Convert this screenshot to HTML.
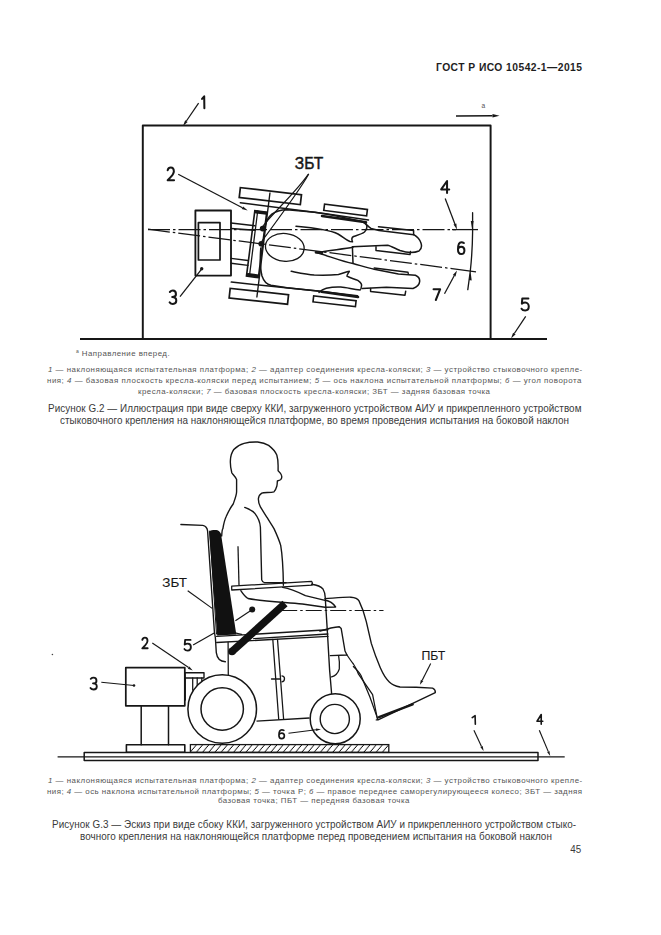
<!DOCTYPE html>
<html><head><meta charset="utf-8">
<style>
html,body{margin:0;padding:0;background:#fff;}
body{width:661px;height:935px;position:relative;overflow:hidden;font-family:"Liberation Sans",sans-serif;color:#2a2a2a;}
.t{position:absolute;white-space:nowrap;line-height:1;transform-origin:0 0;}
.hdr{font-weight:bold;font-size:10.3px;color:#1e1e1e;}
.leg{font-size:7.9px;color:#555;}
.cap{font-size:9.9px;color:#3a3a3a;transform:scaleY(1.07);transform-origin:0 8.4px;}
i{font-style:italic;}
svg{position:absolute;left:0;top:0;}
</style></head><body>
<div class="t hdr" id="h1" style="left:436px;top:63.0px;letter-spacing:0.445px">ГОСТ Р ИСО 10542-1—2015</div>

<div class="t leg" id="a1" style="left:76px;top:348.5px;letter-spacing:0.444px"><sup style="font-size:5px;vertical-align:3px">a</sup> Направление вперед.</div>
<div class="t leg" id="l1" style="left:48px;top:366.3px;letter-spacing:0.499px"><i>1</i> — наклоняющаяся испытательная платформа; <i>2</i> — адаптер соединения кресла-коляски; <i>3</i> — устройство стыковочного крепле-</div>
<div class="t leg" id="l2" style="left:47px;top:376.9px;letter-spacing:0.523px">ния; <i>4</i> — базовая плоскость кресла-коляски перед испытанием; <i>5</i> — ось наклона испытательной платформы; <i>6</i> — угол поворота</div>
<div class="t leg" id="l3" style="left:138px;top:387.8px;letter-spacing:0.477px">кресла-коляски; <i>7</i> — базовая плоскость кресла-коляски; ЗБТ — задняя базовая точка</div>
<div class="t cap" id="c1" style="left:48px;top:403.9px;letter-spacing:0.053px">Рисунок G.2 — Иллюстрация при виде сверху ККИ, загруженного устройством АИУ и прикрепленного устройством</div>
<div class="t cap" id="c2" style="left:60px;top:416.0px;letter-spacing:0.059px">стыковочного крепления на наклоняющейся платформе, во время проведения испытания на боковой наклон</div>

<div class="t leg" id="m1" style="left:48px;top:776.8px;letter-spacing:0.499px"><i>1</i> — наклоняющаяся испытательная платформа; <i>2</i> — адаптер соединения кресла-коляски; <i>3</i> — устройство стыковочного крепле-</div>
<div class="t leg" id="m2" style="left:47px;top:787.8px;letter-spacing:0.464px">ния; <i>4</i> — ось наклона испытательной платформы; <i>5</i> — точка P; <i>6</i> — правое переднее саморегулирующееся колесо; ЗБТ — задняя</div>
<div class="t leg" id="m3" style="left:218px;top:797.4px;letter-spacing:0.469px">базовая точка; ПБТ — передняя базовая точка</div>
<div class="t cap" id="d1" style="left:52px;top:819.9px;letter-spacing:0.053px">Рисунок G.3 — Эскиз при виде сбоку ККИ, загруженного устройством АИУ и прикрепленного устройством стыко-</div>
<div class="t cap" id="d2" style="left:80px;top:831.5px;letter-spacing:0.059px">вочного крепления на наклоняющейся платформе перед проведением испытания на боковой наклон</div>
<div class="t cap" id="p45" style="left:570.2px;top:844.5px;font-size:9.8px;letter-spacing:0.2px">45</div>

<svg width="661" height="935" viewBox="0 0 661 935">
<path d="M142.8,339 V125.5 H490.6 V339" fill="none" stroke="#161616" stroke-width="1.9549999999999998" stroke-linejoin="round" stroke-linecap="round" />
<line x1="80.0" y1="339.0" x2="547.0" y2="339.0" stroke="#161616" stroke-width="1.9549999999999998" />
<line x1="456.0" y1="116.0" x2="492.5" y2="115.8" stroke="#161616" stroke-width="1.38"/><path d="M499.5,115.8 L492.5,117.5 L492.5,114.1 Z" fill="#161616"/>
<text x="481.5" y="108.3" font-family="Liberation Sans" font-size="6.6" fill="#555">a</text>
<line x1="198.6" y1="103.2" x2="186.4" y2="121.0" stroke="#161616" stroke-width="1.265"/><path d="M183.0,126.0 L185.2,120.2 L187.6,121.9 Z" fill="#161616"/>
<path d="M 202.04,98.92 L 204.20,96.30 L 204.38,108.20" fill="none" stroke="#161616" stroke-width="2.0124999999999997" stroke-linecap="round" stroke-linejoin="round"/>
<line x1="525.7" y1="316.3" x2="514.3" y2="333.5" stroke="#161616" stroke-width="1.265"/><path d="M511.0,338.5 L513.1,332.7 L515.6,334.3 Z" fill="#161616"/>
<path d="M 528.39,298.44 L 522.31,298.44 L 521.86,303.69 C 522.92,302.84 524.06,302.59 525.20,302.59 C 527.48,302.59 528.77,304.54 528.77,306.50 C 528.77,308.94 527.48,310.40 525.20,310.40 C 523.68,310.40 522.16,309.79 521.55,308.69" fill="none" stroke="#161616" stroke-width="2.0124999999999997" stroke-linecap="round" stroke-linejoin="round"/>
<line x1="148.0" y1="229.6" x2="456.0" y2="229.6" stroke="#161616" stroke-width="1.265" stroke-dasharray="22 3 2.5 3"/>
<line x1="452.0" y1="229.6" x2="478.0" y2="229.6" stroke="#161616" stroke-width="1.265" />
<line x1="148.0" y1="229.2" x2="452.0" y2="268.6" stroke="#161616" stroke-width="1.265" stroke-dasharray="22 3 2.5 3"/>
<line x1="452.0" y1="268.6" x2="476.0" y2="271.8" stroke="#161616" stroke-width="1.265" />
<path d="M472.6,212.7 L472.6,232 Q472.4,252 470.3,271 L467.8,289.6" fill="none" stroke="#161616" stroke-width="1.3224999999999998" stroke-linejoin="round" stroke-linecap="round" />
<path d="M472.2,229.8 L470.8,221 L473.6,221 Z" fill="#161616"/>
<path d="M470.6,271.5 L468.9,280 L471.7,280.4 Z" fill="#161616"/>
<path d="M 447.05,193.00 L 447.05,181.00 L 441.17,189.40 L 449.23,189.40" fill="none" stroke="#161616" stroke-width="2.0124999999999997" stroke-linecap="round" stroke-linejoin="round"/>
<line x1="445.2" y1="198.5" x2="454.9" y2="224.0" stroke="#161616" stroke-width="1.265"/><path d="M457.0,229.6 L453.5,224.5 L456.3,223.5 Z" fill="#161616"/>
<path d="M 463.86,243.01 C 462.95,242.30 462.04,242.30 461.34,242.30 C 459.10,242.30 457.98,245.84 457.98,249.62 C 457.98,252.57 459.45,254.10 461.20,254.10 C 463.02,254.10 464.42,252.57 464.42,250.21 C 464.42,247.85 463.02,246.67 461.20,246.67 C 459.80,246.67 458.40,247.61 458.05,249.14" fill="none" stroke="#161616" stroke-width="2.0124999999999997" stroke-linecap="round" stroke-linejoin="round"/>
<path d="M 433.54,289.22 L 440.16,289.22 L 435.81,300.00" fill="none" stroke="#161616" stroke-width="2.0124999999999997" stroke-linecap="round" stroke-linejoin="round"/>
<line x1="444.5" y1="293.8" x2="454.2" y2="275.8" stroke="#161616" stroke-width="1.265"/><path d="M457.0,270.5 L455.5,276.5 L452.8,275.1 Z" fill="#161616"/><path d="M195.4,210.5 H231 V275.6 H195.4 Z" fill="none" stroke="#161616" stroke-width="1.8399999999999999" stroke-linejoin="round" stroke-linecap="round" />
<path d="M198.4,222.7 H220 V260 H198.4 Z" fill="none" stroke="#161616" stroke-width="1.7249999999999999" stroke-linejoin="round" stroke-linecap="round" />
<circle cx="201.7" cy="268.8" r="1.7" fill="#161616"/>
<line x1="201.6" y1="269.1" x2="180.0" y2="296.7" stroke="#161616" stroke-width="1.265" />
<path d="M 169.84,291.93 C 170.86,290.87 171.88,290.60 172.90,290.60 C 174.94,290.60 175.96,292.20 175.96,294.19 C 175.96,296.19 174.60,296.98 172.22,296.98 C 174.94,296.98 176.30,298.58 176.30,300.58 C 176.30,302.84 174.94,303.90 172.90,303.90 C 171.54,303.90 170.32,303.24 169.64,302.30" fill="none" stroke="#161616" stroke-width="2.0124999999999997" stroke-linecap="round" stroke-linejoin="round"/>
<path d="M231,223 L255,225.8 M231,228.5 L255,230.2" fill="none" stroke="#161616" stroke-width="1.38" stroke-linejoin="round" stroke-linecap="round" />
<path d="M231,258.4 L248,260.5 M231,263.3 L248,265.4" fill="none" stroke="#161616" stroke-width="1.38" stroke-linejoin="round" stroke-linecap="round" />
<rect x="250.6" y="211.2" width="12.0" height="66.0" transform="rotate(7.30 256.6 244.2)" fill="none" stroke="#161616" stroke-width="1.6099999999999999"/>
<path d="M257.7,211 L249.4,276.3" fill="none" stroke="#161616" stroke-width="1.265" stroke-linejoin="round" stroke-linecap="round" />
<path d="M256,212 L266.5,213.2 M248,274.5 L258.6,276" fill="none" stroke="#161616" stroke-width="2.9899999999999998" stroke-linejoin="round" stroke-linecap="round" />
<line x1="178.2" y1="174.2" x2="242.4" y2="207.8" stroke="#161616" stroke-width="1.265"/><path d="M247.7,210.6 L241.7,209.1 L243.1,206.5 Z" fill="#161616"/>
<path d="M 167.65,170.20 C 168.34,167.86 169.72,167.60 170.75,167.60 C 172.82,167.60 173.86,169.42 173.86,171.50 C 173.86,173.84 172.48,175.14 170.41,177.35 L 167.65,180.21 L 174.06,180.21" fill="none" stroke="#161616" stroke-width="2.0124999999999997" stroke-linecap="round" stroke-linejoin="round"/>
<rect x="239.6" y="191.1" width="61.5" height="10.0" transform="rotate(6.60 270.4 196.1)" fill="none" stroke="#161616" stroke-width="1.7249999999999999"/>
<rect x="229.5" y="291.5" width="58.7" height="9.6" transform="rotate(6.20 258.9 296.3)" fill="none" stroke="#161616" stroke-width="1.7249999999999999"/>
<line x1="270.0" y1="192.5" x2="256.8" y2="297.5" stroke="#161616" stroke-width="1.38" />
<path d="M240.3,202.8 L324,213.4 L368.5,220" fill="none" stroke="#161616" stroke-width="1.4949999999999999" stroke-linejoin="round" stroke-linecap="round" />
<path d="M322,216 L366,222.2" fill="none" stroke="#161616" stroke-width="2.53" stroke-linejoin="round" stroke-linecap="round" />
<path d="M231.3,282.1 L320,291.3 L357.5,295.8" fill="none" stroke="#161616" stroke-width="1.4949999999999999" stroke-linejoin="round" stroke-linecap="round" />
<path d="M321.5,291.8 L358,297" fill="none" stroke="#161616" stroke-width="2.6449999999999996" stroke-linejoin="round" stroke-linecap="round" />
<rect x="324.0" y="206.8" width="43.2" height="6.3" transform="rotate(7.30 345.6 209.9)" fill="none" stroke="#161616" stroke-width="1.6099999999999999"/>
<rect x="313.2" y="298.3" width="42.7" height="6.0" transform="rotate(6.50 334.6 301.3)" fill="none" stroke="#161616" stroke-width="1.6099999999999999"/>
<circle cx="262.6" cy="228.6" r="2.8" fill="#161616"/>
<circle cx="261.2" cy="243.8" r="2.8" fill="#161616"/>
<path d="M308.2,174.3 C296,192 272,214 263,226" fill="none" stroke="#161616" stroke-width="1.15" stroke-linejoin="round" stroke-linecap="round" />
<path d="M308.6,174.3 C300,190 276,222 262,241" fill="none" stroke="#161616" stroke-width="1.15" stroke-linejoin="round" stroke-linecap="round" />
<text x="294.8" y="169.2" font-family="Liberation Sans" font-size="16" fill="#161616" stroke="#161616" stroke-width="0.45" textLength="28.4" lengthAdjust="spacingAndGlyphs">ЗБТ</text>
<ellipse cx="284.8" cy="247.4" rx="19.4" ry="13.9" transform="rotate(6 284.8 247.4)" fill="none" stroke="#161616" stroke-width="1.3"/>
<path d="M265,227 C267,215 275,210 287,209.8 L315,212.3 L333,215.2 L362,221.5 C366,223.5 368,226.5 371,228.4 L379,230.5 L413.8,234.7 C421,239 424,247 419,251 C414,253 406,252.5 400,250.5 C395,248.5 391,245.8 387.5,245.2 L352.4,246.8 L353,263.2" fill="none" stroke="#161616" stroke-width="1.4949999999999999" stroke-linejoin="round" stroke-linecap="round" />
<path d="M296,226.3 C315,228 330,230 338,234 C343,237 347,240.5 350,241.5 L352.5,241.8 C351.5,239.5 351.5,237.5 353.5,236.5 C358,235 362,234 364.5,232 C367,229.5 367.5,226.5 366,223.5" fill="none" stroke="#161616" stroke-width="1.4949999999999999" stroke-linejoin="round" stroke-linecap="round" />
<path d="M260.8,248 C260,258 260.5,270 262,276 C264,282 267,284.5 271,285.3 L287,287.7 L320.3,291.3" fill="none" stroke="#161616" stroke-width="1.4949999999999999" stroke-linejoin="round" stroke-linecap="round" />
<path d="M317.7,252.4 C330,250.5 345,248.5 353,247.2" fill="none" stroke="#161616" stroke-width="1.4949999999999999" stroke-linejoin="round" stroke-linecap="round" />
<path d="M316,252.4 L322,252.6" fill="none" stroke="#161616" stroke-width="2.76" stroke-linejoin="round" stroke-linecap="round" />
<path d="M318,253 C330,256.5 342,261.5 353,263.5 C362,266 368,268 374.2,269.2 L398.4,274 L415.4,275.2 C421,277.5 422,285 413,288.5 L386.3,287.3 L362.1,288.5" fill="none" stroke="#161616" stroke-width="1.4949999999999999" stroke-linejoin="round" stroke-linecap="round" />
<path d="M291.2,271.3 C300,273 307,274.5 314.2,275 C325,275.4 333,275 338.4,274.4 C343,273.5 346,271.5 349.3,271.3 C348,273.5 346.5,275.5 346.9,276.2 C350,278 355,279 357.8,280.4 C361,282.5 362,285 361.4,286.5 C361,289 360.5,290 360.2,290.1 C352,289 346,287.5 340.8,287.1 C334,286.7 330,287.5 326.3,288.3 C322,289.5 320.5,291 319,292.5" fill="none" stroke="#161616" stroke-width="1.4949999999999999" stroke-linejoin="round" stroke-linecap="round" />
<path d="M378.5,226.8 L413.6,230.4 L413.6,234.7" fill="none" stroke="#161616" stroke-width="1.4949999999999999" stroke-linejoin="round" stroke-linecap="round" />
<path d="M376,246.8 L376,250.4 L410,254.6 L410.5,251.6" fill="none" stroke="#161616" stroke-width="1.4949999999999999" stroke-linejoin="round" stroke-linecap="round" />
<path d="M374.2,268 L408,272.2 L408.3,274" fill="none" stroke="#161616" stroke-width="1.38" stroke-linejoin="round" stroke-linecap="round" />
<path d="M370.6,288.5 L370.6,291.6 L405,295.2 L405.7,291.2" fill="none" stroke="#161616" stroke-width="1.4949999999999999" stroke-linejoin="round" stroke-linecap="round" /><path d="M221.7,536 C222,530 222.5,529 222.9,528.6 C224,522 225,519 226.3,516.3 C229,510 231,507 233.2,504 C235,499 236.6,495 236.6,491.8 L236.6,479.5 C235,476 232.5,474.5 231.8,472.7 C230.5,468 230.2,464 230.4,460.4 C230.6,455 232,452 233.8,449.5 C237,446 240,444.5 244.1,443.4 C248,442.3 253,441.8 257.7,442 C262,442.5 265.5,443.5 268.6,445.4 C272,448 275,451 276.8,455 C278,459 278.2,463 278.1,467.2 L278.1,470.7 C279.5,472 281,473.5 281.5,475.4 C282,477 281.5,478.8 280.8,479.5 C279.5,480.5 278,480.7 277.4,480.9 C277.2,483 277.2,485 276.8,486.3 C276,489 275,491 274,491.8 C272,492.5 269.5,492.5 267.2,492.5 C264.5,492.5 262.5,492.7 261.8,493.1 C259.5,494.5 258.6,496.5 258.4,498.6 C258.3,501.5 259,504.5 260.4,506.8 C262.5,510.5 264.8,514 267.2,517.7 C269.5,521.5 272,525 274,528.6 C276.5,534 279,539.5 280.7,545.4 C282.5,556 283.2,570 283.4,585.3" fill="none" stroke="#161616" stroke-width="1.38" stroke-linejoin="round" stroke-linecap="round" />
<path d="M244.7,507.4 C249,509 253,511 255,513.6 C258.5,518 260,522 260.4,527.2 L261.7,579.9 C262.2,581.5 263,582.3 264.4,582.6 L286.2,582.6" fill="none" stroke="#161616" stroke-width="1.38" stroke-linejoin="round" stroke-linecap="round" />
<line x1="238.0" y1="546.3" x2="239.0" y2="585.3" stroke="#161616" stroke-width="1.265" />
<path d="M180.9,524.5 L202.7,525.4 C205.5,526 207.3,528.5 207.6,531 L214.4,632 L215.4,638 L216.3,652.6 C217,658 220,661.5 225.4,661.7" fill="none" stroke="#161616" stroke-width="1.38" stroke-linejoin="round" stroke-linecap="round" />
<path d="M209.8,531 L216.5,634" fill="none" stroke="#161616" stroke-width="1.035" stroke-linejoin="round" stroke-linecap="round" />
<path d="M209,531.5 C211,530 215,529.8 217.5,530.2 C219.5,531 220.5,532.5 221,534 L236.3,634.4 L217.2,635.4 Z" fill="#111"/>
<path d="M231.7,586.2 L311.4,581.3 C312.2,582 312.5,584 312.2,585.1 L231.7,590 Z" fill="none" stroke="#161616" stroke-width="1.265" stroke-linejoin="round" stroke-linecap="round" />
<path d="M240.8,590.7 C243,594 245,597 248,598.5 C260,601 280,602 302.4,604 L325,607.3 L335.6,607 C333,603 330,601 325,600.3 L305.4,595.7 C298,592 290,588.5 282.7,587.4" fill="none" stroke="#161616" stroke-width="1.38" stroke-linejoin="round" stroke-linecap="round" />
<path d="M325,598.7 C335,598 345,597 350.8,597.2 C355,597.5 358,599 359,600.9 C362,607 364.5,614 366.3,621.7 L371.3,643.4 C374,652 377,660 380.3,667.8 C383,674 386,679 389.3,681.9 C392,684.5 395,686 400,687 L416.2,687.2 L432.6,688.1 C434.5,689 435.5,691 435.3,692.6 L378.1,719.9 L376.3,719.9" fill="none" stroke="#161616" stroke-width="1.38" stroke-linejoin="round" stroke-linecap="round" />
<path d="M347,655 C349,658 351,661 353.4,664 C355.5,667 357,670.5 358.5,674.2 L372.6,694.7 L377.5,719.5" fill="none" stroke="#161616" stroke-width="1.265" stroke-linejoin="round" stroke-linecap="round" />
<path d="M353.4,666.5 C356,669 359,672 361,675.5 L370,697.3 L377.8,719.1" fill="none" stroke="#161616" stroke-width="1.265" stroke-linejoin="round" stroke-linecap="round" />
<path d="M379,717.1 L412.6,704.4" fill="none" stroke="#161616" stroke-width="2.53" stroke-linejoin="round" stroke-linecap="round" />
<path d="M234.4,632.6 C237,633.5 239,634 241.7,634.4" fill="none" stroke="#161616" stroke-width="1.265" stroke-linejoin="round" stroke-linecap="round" />
<path d="M320,631.2 C328,628.5 334,627 339.3,626.7 L341.2,628.6 L345,651 L347,655 L330.3,655.6" fill="none" stroke="#161616" stroke-width="1.38" stroke-linejoin="round" stroke-linecap="round" />
<path d="M338.6,655.6 C339.5,660 339.5,665 339.3,669 C338,673 335,676 331.6,676.8" fill="none" stroke="#161616" stroke-width="1.265" stroke-linejoin="round" stroke-linecap="round" />
<path d="M311.5,584.3 C317,585 321,586.5 323,589 C324.5,591.5 325,594 325.2,597.2 L327.3,630.5 L329.6,670 L331.6,693.5" fill="none" stroke="#161616" stroke-width="1.38" stroke-linejoin="round" stroke-linecap="round" />
<path d="M216.7,636.4 L327.9,629.8" fill="none" stroke="#161616" stroke-width="1.38" stroke-linejoin="round" stroke-linecap="round" />
<path d="M253.7,638.6 L327.9,634" fill="none" stroke="#161616" stroke-width="1.265" stroke-linejoin="round" stroke-linecap="round" />
<path d="M216.7,642.5 L327.9,636.4" fill="none" stroke="#161616" stroke-width="1.38" stroke-linejoin="round" stroke-linecap="round" />
<path d="M228.1,642.5 L228.3,675" fill="none" stroke="#161616" stroke-width="1.265" stroke-linejoin="round" stroke-linecap="round" />
<line x1="232" y1="651.5" x2="285" y2="603.5" stroke="#111" stroke-width="7.6"/>
<circle cx="232" cy="651.5" r="3.8" fill="#111"/>
<circle cx="252.2" cy="609.6" r="3" fill="#161616"/>
<line x1="252.0" y1="609.8" x2="235.4" y2="620.8" stroke="#161616" stroke-width="1.15" />
<line x1="281.2" y1="610.5" x2="383.5" y2="610.5" stroke="#161616" stroke-width="1.15" stroke-dasharray="16 3 2.5 3"/>
<text x="162.3" y="586.8" font-family="Liberation Sans" font-size="12.9" fill="#161616" stroke="#161616" stroke-width="0.1" textLength="24.6" lengthAdjust="spacingAndGlyphs">ЗБТ</text>
<line x1="187.7" y1="590.7" x2="212.2" y2="608.4" stroke="#161616" stroke-width="1.15" />
<path d="M 190.56,639.92 L 185.12,639.92 L 184.71,644.61 C 185.66,643.84 186.68,643.62 187.70,643.62 C 189.74,643.62 190.90,645.37 190.90,647.11 C 190.90,649.29 189.74,650.60 187.70,650.60 C 186.34,650.60 184.98,650.06 184.44,649.07" fill="none" stroke="#161616" stroke-width="1.8399999999999999" stroke-linecap="round" stroke-linejoin="round"/>
<line x1="193.1" y1="645.1" x2="214.2" y2="632.9" stroke="#161616" stroke-width="1.15" />
<path d="M 142.29,639.88 C 142.87,637.92 144.03,637.70 144.90,637.70 C 146.64,637.70 147.51,639.23 147.51,640.97 C 147.51,642.93 146.35,644.02 144.61,645.88 L 142.29,648.27 L 147.68,648.27" fill="none" stroke="#161616" stroke-width="1.8399999999999999" stroke-linecap="round" stroke-linejoin="round"/>
<line x1="152.3" y1="643.1" x2="188.6" y2="667.6" stroke="#161616" stroke-width="1.15"/><path d="M192.7,670.4 L187.8,668.8 L189.3,666.4 Z" fill="#161616"/>
<path d="M 90.72,678.88 C 91.68,677.94 92.64,677.70 93.60,677.70 C 95.52,677.70 96.48,679.12 96.48,680.89 C 96.48,682.66 95.20,683.36 92.96,683.36 C 95.52,683.36 96.80,684.78 96.80,686.55 C 96.80,688.56 95.52,689.50 93.60,689.50 C 92.32,689.50 91.17,688.91 90.53,688.08" fill="none" stroke="#161616" stroke-width="1.8399999999999999" stroke-linecap="round" stroke-linejoin="round"/>
<line x1="101.3" y1="682.2" x2="134.0" y2="685.5" stroke="#161616" stroke-width="1.15" />
<circle cx="134" cy="685.5" r="1.3" fill="#161616"/>
<path d="M125.8,667.7 H184.8 V705.8 H125.8 Z" fill="none" stroke="#161616" stroke-width="1.7249999999999999" stroke-linejoin="round" stroke-linecap="round" />
<path d="M141.2,705.8 V744.8 M168.5,705.8 V744.8" fill="none" stroke="#161616" stroke-width="1.4949999999999999" stroke-linejoin="round" stroke-linecap="round" />
<path d="M126.4,744.8 H184.8 V752.3 H126.4 Z" fill="none" stroke="#161616" stroke-width="1.6099999999999999" stroke-linejoin="round" stroke-linecap="round" />
<path d="M185.1,672.7 H204 V678 H185.1 Z" fill="none" stroke="#161616" stroke-width="1.38" stroke-linejoin="round" stroke-linecap="round" />
<path d="M185.3,678 V700 M192.7,678 V690 M197.2,678 V688 M201.8,678 V684" fill="none" stroke="#161616" stroke-width="1.265" stroke-linejoin="round" stroke-linecap="round" />
<circle cx="222.2" cy="709" r="34.3" fill="#fff" stroke="#161616" stroke-width="1.5"/>
<circle cx="222.2" cy="709" r="21.2" fill="none" stroke="#161616" stroke-width="1.5"/>
<line x1="256.5" y1="721.1" x2="309.5" y2="718.0" stroke="#161616" stroke-width="1.38" />
<path d="M272.8,639.4 L278.7,719 M277.5,639.4 L283.6,719" fill="none" stroke="#161616" stroke-width="1.265" stroke-linejoin="round" stroke-linecap="round" />
<path d="M271.5,679 L280,679" fill="none" stroke="#161616" stroke-width="1.265" stroke-linejoin="round" stroke-linecap="round" />
<path d="M281.5,675.8 A3,3 0 0 1 281.5,681.8" fill="none" stroke="#161616" stroke-width="1.3"/>
<circle cx="335.2" cy="718.7" r="25" fill="#fff" stroke="#161616" stroke-width="1.5"/>
<circle cx="334.8" cy="719" r="14.6" fill="none" stroke="#161616" stroke-width="1.4"/>
<path d="M 283.89,730.33 C 283.12,729.80 282.36,729.80 281.77,729.80 C 279.88,729.80 278.94,732.47 278.94,735.32 C 278.94,737.54 280.18,738.70 281.65,738.70 C 283.18,738.70 284.36,737.54 284.36,735.76 C 284.36,733.98 283.18,733.09 281.65,733.09 C 280.47,733.09 279.29,733.80 279.00,734.96" fill="none" stroke="#161616" stroke-width="1.6674999999999998" stroke-linecap="round" stroke-linejoin="round"/>
<line x1="288.5" y1="733.2" x2="316.0" y2="729.8" stroke="#161616" stroke-width="1.15"/><path d="M321.0,729.2 L316.2,731.1 L315.9,728.5 Z" fill="#161616"/>
<text x="421.4" y="660.1" font-family="Liberation Sans" font-size="12.9" fill="#161616" stroke="#161616" stroke-width="0.1" textLength="23.8" lengthAdjust="spacingAndGlyphs">ПБТ</text>
<line x1="430.7" y1="663.6" x2="422.2" y2="680.3" stroke="#161616" stroke-width="1.15"/><path d="M419.9,684.8 L420.9,679.7 L423.4,681.0 Z" fill="#161616"/>
<defs><pattern id="hat" patternUnits="userSpaceOnUse" width="6.2" height="8" patternTransform="skewX(-40)"><line x1="3" y1="0" x2="3" y2="8" stroke="#161616" stroke-width="1.1"/></pattern></defs>
<rect x="190.4" y="744.6" width="198.4" height="7.8" fill="url(#hat)" stroke="#161616" stroke-width="1.3"/>
<path d="M84.2,752.6 H538 V760.4 H84.2 Z" fill="none" stroke="#161616" stroke-width="1.4949999999999999" stroke-linejoin="round" stroke-linecap="round" />
<line x1="57.6" y1="756.8" x2="564.7" y2="756.8" stroke="#161616" stroke-width="1.265" />
<path d="M 472.22,717.59 L 475.10,715.70 L 475.34,724.30" fill="none" stroke="#161616" stroke-width="1.6099999999999999" stroke-linecap="round" stroke-linejoin="round"/>
<line x1="473.9" y1="730.3" x2="481.5" y2="746.5" stroke="#161616" stroke-width="1.15"/><path d="M483.6,751.0 L480.3,747.0 L482.7,745.9 Z" fill="#161616"/>
<path d="M 541.22,724.20 L 541.22,714.50 L 537.02,721.29 L 542.78,721.29" fill="none" stroke="#161616" stroke-width="1.6099999999999999" stroke-linecap="round" stroke-linejoin="round"/>
<line x1="539.3" y1="730.3" x2="548.2" y2="751.4" stroke="#161616" stroke-width="1.15"/><path d="M550.2,756.0 L547.1,751.9 L549.4,750.9 Z" fill="#161616"/>
<circle cx="52.4" cy="654.5" r="0.8" fill="#444"/>
</svg>
</body></html>
